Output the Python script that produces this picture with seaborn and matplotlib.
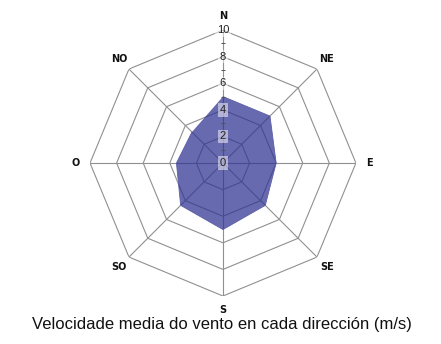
import numpy as np
import pandas as pd
import seaborn as sns
import matplotlib
matplotlib.use('Agg')
import matplotlib.pyplot as plt

# data
directions = ['N', 'NE', 'E', 'SE', 'S', 'SO', 'O', 'NO']
speeds = [5.0, 5.0, 4.0, 4.5, 5.0, 4.5, 3.5, 3.3]
rings = [2, 4, 6, 8, 10]
r_labels = [0, 2, 4, 6, 8, 10]
minor_ticks = [1, 3, 5, 7, 9]
caption = 'Velocidade media do vento en cada dirección (m/s)'

sns.set_style('white')
plt.rcParams['font.family'] = ['Liberation Sans', 'DejaVu Sans']

angles = np.linspace(0, 2 * np.pi, len(directions), endpoint=False)
closed_angles = np.append(angles, angles[0])
df = pd.DataFrame({'angle': closed_angles, 'speed': speeds + speeds[:1]})

fig = plt.figure(figsize=(4.41, 3.44), dpi=100)
ax = fig.add_axes([0.2041, 0.1395, 0.603, 0.773], projection='polar')
ax.set_theta_zero_location('N')
ax.set_theta_direction(-1)
ax.set_ylim(0, 10)
ax.grid(False)
ax.spines['polar'].set_visible(False)
ax.set_xticks([])
ax.set_yticks([])

grid_col = '#909090'
# octagon rings
for r in rings:
    ax.plot(closed_angles, [r] * len(closed_angles), color=grid_col, lw=0.8, zorder=1)
# spokes
for a in angles:
    ax.plot([a, a], [0, 10], color=grid_col, lw=0.8, zorder=1)

# the data polygon
ax.fill(df['angle'], df['speed'], color='#2e3192', alpha=0.72, lw=0, zorder=2)
sns.lineplot(data=df, x='angle', y='speed', sort=False, ax=ax, color='#5c5ea8', lw=0.6, zorder=2)
ax.set_xlabel('')
ax.set_ylabel('')

# minor tick dashes on the N axis
ax.plot([0] * len(minor_ticks), minor_ticks, ls='none', marker='_', ms=3, mew=0.7, color='#555555', zorder=3)
# radial labels
for r in r_labels:
    ax.text(0, r, str(r), ha='center', va='center', fontsize=8, color='#222222', zorder=4,
            bbox=dict(boxstyle='square,pad=0.15', fc='white', ec='none', alpha=0.5))

# direction labels
for a, d in zip(angles, directions):
    ax.text(a, 11.05, d, ha='center', va='center', fontsize=7, fontweight='bold',
            family='DejaVu Sans', color='#111111', clip_on=False)

fig.text(0.503, 1 - 324 / 344, caption, ha='center', va='center', fontsize=12, color='#111111')

plt.savefig('out.png', dpi=100)
